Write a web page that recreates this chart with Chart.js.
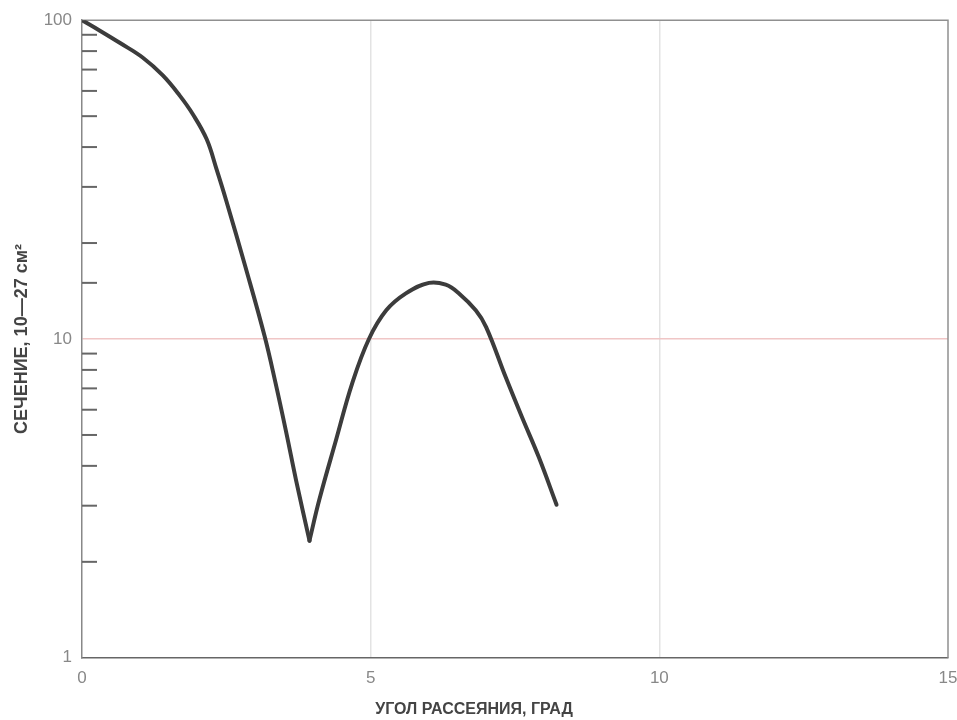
<!DOCTYPE html>
<html>
<head>
<meta charset="utf-8">
<script src="https://cdn.jsdelivr.net/npm/chart.js@4"></script>
<style>
  body { margin: 0; background: #fff; }
</style>
</head>
<body>
<canvas id="crossChart" width="957" height="720"></canvas>
<script>
// Curve: angle (deg) and cross-section (10^-27 cm^2)
let angles = [0, 0.31, 0.66, 1.05, 1.40, 1.69, 1.92, 2.16, 2.33, 2.50, 2.83, 3.16, 3.35, 3.54, 3.71, 3.94,
              4.11, 4.40, 4.68, 4.97, 5.27, 5.61, 6.01, 6.30, 6.53, 6.82, 7.00, 7.34, 7.62, 7.91, 8.22];
let sections = [100, 92.7, 84.8, 76.4, 67.1, 58.1, 50.7, 42.3, 34.1, 27.1, 16.85, 10.25, 7.31, 5.07, 3.59, 2.33,
                3.13, 4.82, 7.26, 10, 12.3, 13.9, 15.0, 14.8, 13.9, 12.3, 10.9, 7.58, 5.69, 4.27, 3.02];
let xTicks = [0, 5, 10, 15];
let yLabels = [1, 10, 100];

// split at the dip so the V stays sharp
let dip = sections.indexOf(Math.min(...sections));
let points = angles.map((a, i) => ({ x: a, y: sections[i] }));

function branch(data) {
    return {
        data: data,
        borderColor: "#3c3c3c",
        borderWidth: 4,
        borderCapStyle: "round",
        pointRadius: 0,
        tension: 0.4,
        fill: false
    };
}

// Top/right frame and the short inner ticks on the y axis
let frame = {
    id: "frame",
    beforeDatasetsDraw(chart) {
        let ctx = chart.ctx;
        let a = chart.chartArea;
        let y = chart.scales.y;
        ctx.save();
        ctx.strokeStyle = "#909090";
        ctx.lineWidth = 1.5;
        ctx.beginPath();
        ctx.moveTo(a.left, a.top);
        ctx.lineTo(a.right, a.top);
        ctx.lineTo(a.right, a.bottom);
        ctx.stroke();

        ctx.strokeStyle = "#666";
        ctx.lineWidth = 2;
        y.ticks.forEach(function (t) {
            if (yLabels.includes(t.value)) return;
            let py = y.getPixelForValue(t.value);
            ctx.beginPath();
            ctx.moveTo(a.left, py);
            ctx.lineTo(a.left + 15, py);
            ctx.stroke();
        });
        ctx.restore();
    }
};

let ctx = document.getElementById("crossChart").getContext("2d");

let chart = new Chart(ctx, {
    type: "line",
    data: {
        datasets: [branch(points.slice(0, dip + 1)), branch(points.slice(dip))]
    },
    options: {
        responsive: false,
        animation: false,
        layout: { padding: { top: 18, right: 9, left: 0, bottom: 0 } },
        plugins: {
            legend: { display: false },
            tooltip: { enabled: false },
            title: {
                display: true,
                position: "bottom",
                text: "УГОЛ РАССЕЯНИЯ, ГРАД",
                color: "#444",
                font: { family: "Liberation Sans", size: 16, weight: "bold" },
                padding: { top: 0, bottom: 1 }
            }
        },
        scales: {
            x: {
                type: "linear",
                min: 0,
                max: 15,
                afterFit: function (s) {
                    s.height = 42;
                    s.paddingRight = 0;
                    s.paddingLeft = 0;
                },
                afterBuildTicks: function (s) {
                    s.ticks = xTicks.map(v => ({ value: v }));
                },
                border: { color: "#666", width: 1.5 },
                grid: {
                    drawTicks: false,
                    color: function (c) {
                        let v = c.tick ? c.tick.value : null;
                        return (v === 5 || v === 10) ? "#e3e3e3" : "rgba(0,0,0,0)";
                    },
                    lineWidth: 1.5
                },
                ticks: {
                    color: "#888",
                    padding: 10,
                    font: { family: "Liberation Sans", size: 17 }
                }
            },
            y: {
                type: "logarithmic",
                min: 1,
                max: 100,
                afterFit: function (s) { s.width = 82; },
                border: { color: "#888", width: 1.5 },
                grid: {
                    drawTicks: false,
                    color: function (c) {
                        let v = c.tick ? c.tick.value : null;
                        return v === 10 ? "#f0c6c6" : "rgba(0,0,0,0)";
                    },
                    lineWidth: 1.5
                },
                ticks: {
                    autoSkip: false,
                    color: "#888",
                    padding: 10,
                    font: { family: "Liberation Sans", size: 17 },
                    callback: function (v) {
                        return yLabels.includes(v) ? String(v) : "";
                    }
                },
                title: {
                    display: true,
                    text: "СЕЧЕНИЕ, 10—27 см²",
                    color: "#444",
                    font: { family: "Liberation Sans", size: 18, weight: "bold" },
                    padding: { top: 11, bottom: 0 }
                }
            }
        }
    },
    plugins: [frame]
});
</script>
</body>
</html>
